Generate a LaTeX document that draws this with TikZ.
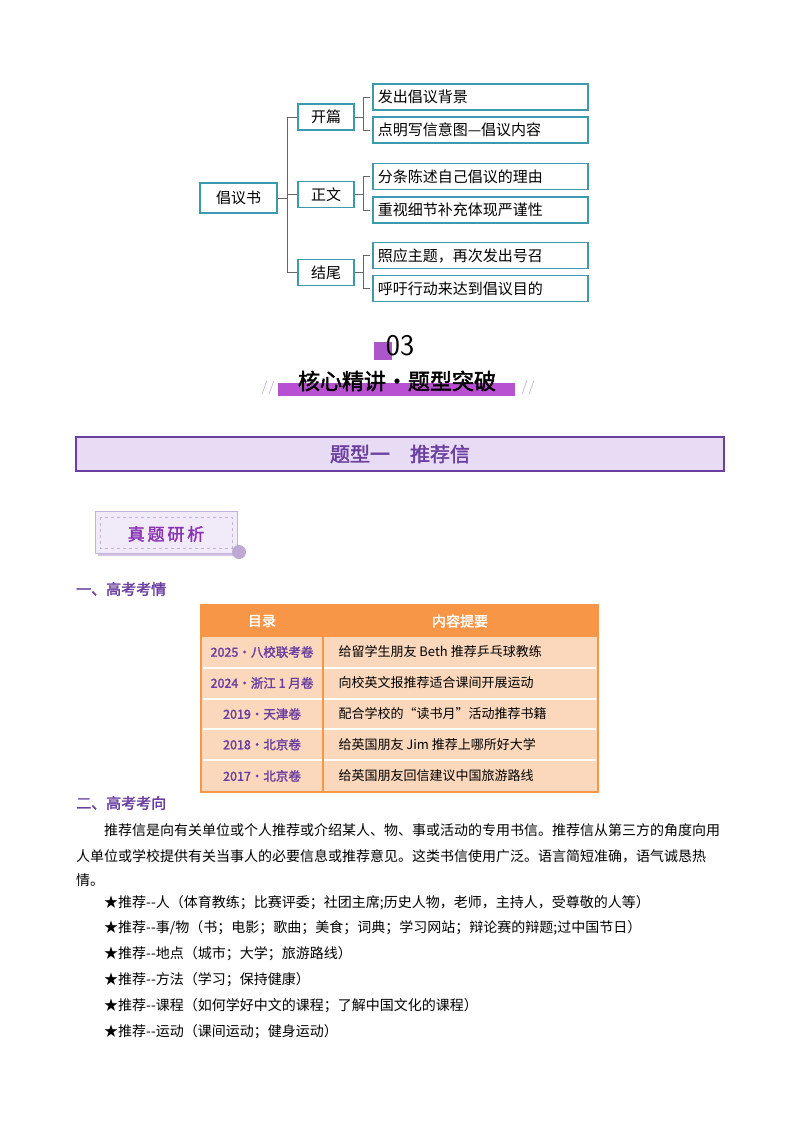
\documentclass[tikz,border=0pt]{standalone}
\usepackage{fontspec}
\setmainfont{Liberation Serif}
\newfontfamily\cjk{Noto Sans CJK SC}
\newfontfamily\cjkb{Noto Sans CJK SC}[FakeBold=2]
\definecolor{teal}{HTML}{3A9BB0}
\definecolor{pur}{HTML}{6B3FA0}
\definecolor{lpur}{HTML}{E8DCF5}
\definecolor{org}{HTML}{F79646}
\definecolor{peach}{HTML}{FBD8BC}
\begin{document}
\begin{tikzpicture}[x=1pt,y=-1pt,
  mbox/.style={draw=teal,line width=1.6pt,inner sep=0pt,font=\cjk\fontsize{15}{15}\selectfont},
  brk/.style={draw=gray!80!black,line width=1pt},
  cell/.style={font=\cjk\fontsize{13}{13}\selectfont},
  body/.style={anchor=west,font=\cjk\fontsize{14}{14}\selectfont,inner sep=0pt}]
\useasboundingbox[fill=white] (0,0) rectangle (800,1132);
% mind map
\node[mbox,minimum width=77,minimum height=30] (root) at (238.5,198) {倡议书};
\node[mbox,minimum width=56,minimum height=26] (m1) at (326,117) {开篇};
\node[mbox,minimum width=56,minimum height=26] (m2) at (326,194.5) {正文};
\node[mbox,minimum width=56,minimum height=26] (m3) at (326,272.5) {结尾};
\foreach \n/\y/\t in {l1/97/发出倡议背景,l2/130/点明写信意图—倡议内容,l3/176.5/分条陈述自己倡议的理由,l4/210/重视细节补充体现严谨性,l5/255.5/照应主题，再次发出号召,l6/288.5/呼吁行动来达到倡议目的}
  \node[mbox,minimum width=215,minimum height=26,anchor=west,text width=205,align=left,inner xsep=5pt] (\n) at (372,\y) {\t};
\draw[brk] (root.east) -- (287,198);
\draw[brk] (m1.west) -- (287,117) |- (m3.west);
\draw[brk] (m2.west) -- (287,194.5);
\foreach \m/\a/\b in {m1/l1/l2,m2/l3/l4,m3/l5/l6}{
  \draw[brk] (\m.east) -- ([xshift=-9]\a.west |- \m.east);
  \draw[brk] ([xshift=-2]\a.west) -- ([xshift=-9]\a.west) |- ([xshift=-2]\b.west);
}
% 03 header
\fill[pur!70!magenta!80] (374,342) rectangle (392,360);
\node[font=\fontsize{30}{30}\selectfont\sffamily] (num) at (400,346) {03};
\fill[pur!60!magenta!80] (278,383) rectangle (515,396);
\node[font=\cjkb\fontsize{22}{22}\selectfont] (ttl) at (397,381) {核心精讲·题型突破};
\node[font=\sffamily\fontsize{14}{14}\selectfont,text=pur!60] (s1) at (268,388) {//};
\node[font=\sffamily\fontsize{14}{14}\selectfont,text=pur!60] (s2) at (528,388) {//};
% type banner
\node[draw=pur,line width=2pt,fill=lpur,minimum width=648,minimum height=34,text=pur,font=\cjkb\fontsize{20}{20}\selectfont] (ban) at (400,454) {题型一\hspace{1em}推荐信};
% badge
\fill[pur!30] (98,548) rectangle (238,556);
\node[draw=pur!40,fill=lpur!60,minimum width=142,minimum height=42] (bad) at (166,532) {};
\draw[pur!40,dashed] (100,517) rectangle (232,548);
\node[text=pur!80!magenta,font=\cjkb\fontsize{17}{17}\selectfont] (badt) at (166,534) {真\,题\,研\,析};
\fill[pur!45] (239,552) circle (7);
% headings
\node[body,text=pur,font=\cjkb\fontsize{15}{15}\selectfont] (h1) at (76,589) {一、高考考情};
\node[body,text=pur,font=\cjkb\fontsize{15}{15}\selectfont] (h2) at (76,803) {二、高考考向};
% table
\fill[peach] (201,605) rectangle (598,792);
\draw[org,line width=1.5pt] (201,605) rectangle (598,792);
\fill[org] (201,605) rectangle (598,637);
\node[text=white,font=\cjkb\fontsize{14}{14}\selectfont] (th1) at (262,621) {目录};
\node[text=white,font=\cjkb\fontsize{14}{14}\selectfont] (th2) at (460,621) {内容提要};
\foreach \y in {668,699,729,760} \draw[white,line width=2pt] (203,\y) -- (596,\y);
\draw[org,line width=1.5pt] (323,637) -- (323,792);
\foreach \i/\y/\a/\b in {1/652/{2025·八校联考卷}/{给留学生朋友 Beth 推荐乒乓球教练},2/683/{2024·浙江 1 月卷}/{向校英文报推荐适合课间开展运动},3/714/{2019·天津卷}/{配合学校的“读书月”活动推荐书籍},4/744.5/{2018·北京卷}/{给英国朋友 Jim 推荐上哪所好大学},5/776/{2017·北京卷}/{给英国朋友回信建议中国旅游路线}}{
  \node[cell,text=pur,font=\cjkb\fontsize{12.5}{12.5}\selectfont] (ta\i) at (262,\y) {\a};
  \node[cell,anchor=west] (tb\i) at (335,\y) {\b};
}
% body text
\node[body] (p1) at (104,830) {推荐信是向有关单位或个人推荐或介绍某人、物、事或活动的专用书信。推荐信从第三方的角度向用};
\node[body] (p2) at (76,856) {人单位或学校提供有关当事人的必要信息或推荐意见。这类书信使用广泛。语言简短准确，语气诚恳热};
\node[body] (p3) at (76,880) {情。};
\node[body] (q1) at (104,903) {★推荐--人（体育教练；比赛评委；社团主席;历史人物，老师，主持人，受尊敬的人等）};
\node[body] (q2) at (104,928) {★推荐--事/物（书；电影；歌曲；美食；词典；学习网站；辩论赛的辩题;过中国节日）};
\node[body] (q3) at (104,954) {★推荐--地点（城市；大学；旅游路线）};
\node[body] (q4) at (104,980) {★推荐--方法（学习；保持健康）};
\node[body] (q5) at (104,1006) {★推荐--课程（如何学好中文的课程；了解中国文化的课程）};
\node[body] (q6) at (104,1032) {★推荐--运动（课间运动；健身运动）};
\end{tikzpicture}
\end{document}
